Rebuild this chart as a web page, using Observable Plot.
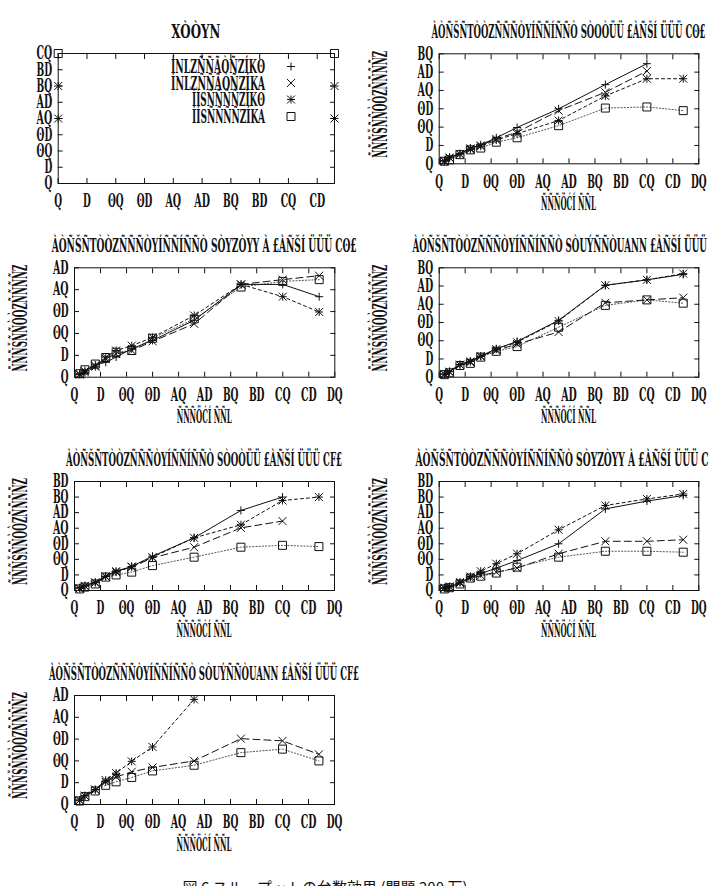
<!DOCTYPE html>
<html><head><meta charset="utf-8">
<script src="https://cdn.jsdelivr.net/npm/d3@7"></script>
<script src="https://cdn.jsdelivr.net/npm/@observablehq/plot@0.6"></script>
<style>
body{margin:0;background:#fff}
#root{position:relative;width:709px;height:886px;overflow:hidden;background:#fff}
#root svg{position:absolute;left:0;top:0}
</style>
</head><body><div id="root"></div>
<script>
// ---------- data ----------
const xs = [1, 2, 4, 6, 8, 11, 15, 23, 32, 40, 47];
const keyX = [0, 48];
const keySquare = [40, 40];
const keyStarA = [30, 30];
const keyStarB = [20, 20];

const p2Plus = [0.9, 1.8, 2.8, 4.3, 5.2, 7.1, 9.9, 15, 21.6, 27.3];
const p2Times = [0.8, 1.7, 2.7, 4.2, 5.0, 6.8, 8.6, 14.5, 19.5, 25.3];
const p2Star = [0.7, 1.6, 2.6, 3.9, 4.8, 6.5, 8.2, 11.8, 18.5, 23.2, 23.2];
const p2Square = [0.7, 1.1, 2.5, 3.8, 4.3, 5.9, 7.1, 10.4, 15.2, 15.5, 14.5];

const p3Plus = [0.8, 1.5, 2.8, 3.4, 4.6, 6.5, 8.4, 13, 21.2, 21.2, 18.4];
const p3Times = [0.7, 1.4, 2.6, 4.2, 5.3, 6.1, 8.2, 12.2, 21.2, 22.3, 23.2];
const p3Star = [0.6, 1.1, 2.4, 4.6, 6.1, 7.2, 9.1, 14.1, 21.2, 18.4, 14.9];
const p3Square = [0.8, 1.7, 3.0, 4.5, 5.7, 6.1, 8.9, 13.3, 20.6, 21.9, 22.3];

const p4Plus = [0.9, 1.6, 3.5, 4.4, 5.8, 7.8, 9.8, 15.6, 25.2, 26.7, 28.2];
const p4Times = [0.9, 1.4, 3.4, 4.1, 5.8, 7.3, 9.1, 12.4, 20.4, 21.2, 21.8];
const p4Star = [0.8, 1.5, 3.4, 4.3, 5.7, 7.7, 9.6, 15.4, 25.2, 26.7, 28.4];
const p4Square = [0.7, 1.2, 3.2, 3.8, 5.5, 7.1, 8.4, 13.7, 19.7, 21.2, 20.3];

const p5Plus = [0.9, 1.6, 2.7, 4.6, 6.2, 7.7, 11, 16.9, 25.7, 30];
const p5Times = [0.7, 1.5, 2.6, 4.5, 6.2, 7.5, 10.5, 13.9, 20.1, 22.3];
const p5Star = [0.7, 1.4, 2.5, 4.5, 5.9, 7.7, 10.7, 16.9, 21.1, 28.9, 30];
const p5Square = [0.5, 1.1, 2.1, 4.3, 5.0, 5.9, 8, 10.7, 13.9, 14.5, 14.1];

const p6Plus = [0.7, 1.1, 2.5, 4.3, 5.4, 7.2, 9.6, 15, 26.2, 28.7, 30.5];
const p6Times = [0.7, 1.1, 2.4, 4.0, 4.8, 5.9, 7.2, 11.8, 15.8, 15.8, 16.3];
const p6Star = [0.9, 1.3, 2.7, 4.5, 6.2, 8.6, 11.8, 19.5, 27.3, 29.4, 31];
const p6Square = [0.5, 0.9, 2.1, 4.0, 4.6, 5.6, 7.5, 10.7, 12.6, 12.6, 12.3];

const p7Plus = [1.0, 2.0, 3.4, 5.2, 6.9];
const p7Times = [1.0, 2.0, 3.4, 5.2, 6.3, 7.5, 8.5, 10, 15.1, 14.6, 11.5];
const p7Star = [1.0, 2.0, 3.4, 5.6, 7.2, 9.9, 13.2, 24.1];
const p7Square = [0.8, 1.8, 3.1, 4.4, 5.2, 6.2, 7.7, 9, 11.9, 12.7, 10];

const xTicks45 = [0, 5, 10, 15, 20, 25, 30, 35, 40, 45];
const xTicks50 = [0, 5, 10, 15, 20, 25, 30, 35, 40, 45, 50];
const yTicks25 = [0, 5, 10, 15, 20, 25];
const yTicks30 = [0, 5, 10, 15, 20, 25, 30];
const yTicks35 = [0, 5, 10, 15, 20, 25, 30, 35];
const yTicks40 = [0, 5, 10, 15, 20, 25, 30, 35, 40];

// text as it appears in the picture
const keyLabels = ["ÍNLZÑÑÃÒÑZÍKʘ", "ÍNLZÑÑÃÒÑZÍKA", "ÍÍSÑÑÑÑZÍKʘ", "ÍÍSÑÑÑÑZÍKA"];
const keyTitle = "XÒÒYN";
const panelTitles = [
  "ÀÒÑŠÑTÒÒZÑÑÑÒYÍÑÑÍÑÑÒ SÒOÒÜÜ £ÀÑŠÍ ÜÜÜ Cʘ£",
  "ÀÒÑŠÑTÒÒZÑÑÑÒYÍÑÑÍÑÑÒ SÒYZÒYY À £ÀÑŠÍ ÜÜÜ Cʘ£",
  "ÀÒÑŠÑTÒÒZÑÑÑÒYÍÑÑÍÑÑÒ SÒUÝÑÑÒUANN £ÀÑŠÍ ÜÜÜ Cʘ",
  "ÀÒÑŠÑTÒÒZÑÑÑÒYÍÑÑÍÑÑÒ SÒOÒÜÜ £ÀÑŠÍ ÜÜÜ CF£",
  "ÀÒÑŠÑTÒÒZÑÑÑÒYÍÑÑÍÑÑÒ SÒYZÒYY À £ÀÑŠÍ ÜÜÜ CF£",
  "ÀÒÑŠÑTÒÒZÑÑÑÒYÍÑÑÍÑÑÒ SÒUÝÑÑÒUANN £ÀÑŠÍ ÜÜÜ CF£"
];
const yLabel = "ÑÑÑŠÑÑÒÒZÑÑÑÑZ";
const xLabel = "ÑÑÑÖĆÍ ÑÑL";
const caption = "図 6 スループットの台数効果 (問題 200 万)";
const digitGlyphs = {"0": "Q", "1": "ʘ", "2": "A", "3": "B", "4": "C", "5": "D"};

// ---------- symbols (gnuplot style point types) ----------
const rad = s => Math.sqrt(s / Math.PI);
const symPlus = {draw(c, s) {const r = rad(s); c.moveTo(-r, 0); c.lineTo(r, 0); c.moveTo(0, -r); c.lineTo(0, r);}};
const symTimes = {draw(c, s) {const r = rad(s); c.moveTo(-r, -r); c.lineTo(r, r); c.moveTo(-r, r); c.lineTo(r, -r);}};
const symStar = {draw(c, s) {const r = rad(s); c.moveTo(-r, 0); c.lineTo(r, 0); c.moveTo(0, -r); c.lineTo(0, r);
  c.moveTo(-r, -r); c.lineTo(r, r); c.moveTo(-r, r); c.lineTo(r, -r);}};
const symSquare = {draw(c, s) {const r = rad(s); c.moveTo(-r, -r); c.lineTo(r, -r); c.lineTo(r, r); c.lineTo(-r, r); c.closePath();}};

const styles = {
  plus: {symbol: symPlus, dash: null, stroke: "#111"},
  times: {symbol: symTimes, dash: "7,4", stroke: "#111"},
  star: {symbol: symStar, dash: "3,3", stroke: "#111"},
  square: {symbol: symSquare, dash: "1.2,2", stroke: "#555"}
};

const W = 709, H = 886;
const garble = d => String(d).split("").map(ch => digitGlyphs[ch] ?? ch).join("");
const FONT = "'DejaVu Serif', 'Liberation Serif', serif";

const panels = [
  {fx0: 57.7, fx1: 334, fy0: 53, fy1: 183, xDomain: [0, 48], xTicks: xTicks45, yDomain: [0, 40], yTicks: yTicks40,
   series: [{k: "square", x: keyX, v: keySquare, line: false}, {k: "star", x: keyX, v: keyStarA, line: false}, {k: "star", x: keyX, v: keyStarB, line: false}],
   title: keyTitle, titleW: 49, labels: false},
  {fx0: 438.7, fx1: 698.3, fy0: 53.3, fy1: 163.3, yDomain: [0, 30], yTicks: yTicks30, ylx: 380,
   series: [{k: "square", v: p2Square}, {k: "star", v: p2Star}, {k: "times", v: p2Times}, {k: "plus", v: p2Plus}], title: panelTitles[0], titleW: 274},
  {fx0: 74, fx1: 334.3, fy0: 267.3, fy1: 376.7, yDomain: [0, 25], yTicks: yTicks25, ylx: 20,
   series: [{k: "square", v: p3Square}, {k: "star", v: p3Star}, {k: "times", v: p3Times}, {k: "plus", v: p3Plus}], title: panelTitles[1], titleW: 305},
  {fx0: 438.7, fx1: 698.3, fy0: 267.3, fy1: 376.7, yDomain: [0, 30], yTicks: yTicks30, ylx: 380,
   series: [{k: "square", v: p4Square}, {k: "times", v: p4Times}, {k: "star", v: p4Star}, {k: "plus", v: p4Plus}], title: panelTitles[2], titleW: 312},
  {fx0: 74, fx1: 334, fy0: 481, fy1: 590, yDomain: [0, 35], yTicks: yTicks35, ylx: 20,
   series: [{k: "square", v: p5Square}, {k: "times", v: p5Times}, {k: "star", v: p5Star}, {k: "plus", v: p5Plus}], title: panelTitles[3], titleW: 276},
  {fx0: 438.7, fx1: 698.3, fy0: 481, fy1: 590, yDomain: [0, 35], yTicks: yTicks35, ylx: 380,
   series: [{k: "square", v: p6Square}, {k: "times", v: p6Times}, {k: "plus", v: p6Plus}, {k: "star", v: p6Star}], title: panelTitles[4], titleW: 306},
  {fx0: 74, fx1: 334, fy0: 695, fy1: 804, yDomain: [0, 25], yTicks: yTicks25, ylx: 20,
   series: [{k: "square", v: p7Square}, {k: "times", v: p7Times}, {k: "plus", v: p7Plus}, {k: "star", v: p7Star}], title: panelTitles[5], titleW: 310}
];

const root = document.getElementById("root");

for (const p of panels) {
  const xTicks = p.xTicks || xTicks50;
  const xDomain = p.xDomain || [0, 50];
  const marks = [];
  for (const s of p.series) {
    const st = styles[s.k];
    const sx = s.x || xs;
    const data = s.v.map((v, i) => ({x: sx[i], y: v}));
    if (s.line !== false) {
      marks.push(Plot.line(data, {x: "x", y: "y", stroke: st.stroke, strokeWidth: 1, strokeDasharray: st.dash}));
    }
    marks.push(Plot.dot(data, {x: "x", y: "y", symbol: st.symbol, r: 4, fill: "none", stroke: "#111", strokeWidth: 1}));
  }
  const tk = {tickSize: -5, tickFormat: () => "", label: null, stroke: "#111"};
  marks.push(
    Plot.axisX(xTicks, {...tk, anchor: "bottom"}),
    Plot.axisX(xTicks, {...tk, anchor: "top"}),
    Plot.axisY(p.yTicks, {...tk, anchor: "left"}),
    Plot.axisY(p.yTicks, {...tk, anchor: "right"}),
    Plot.axisX(xTicks, {anchor: "bottom", tickSize: 0, tickPadding: 11, tickFormat: garble, label: null, fontSize: 18, fill: "#111"}),
    Plot.axisY(p.yTicks, {anchor: "left", tickSize: 0, tickPadding: 6, tickFormat: garble, label: null, fontSize: 18, fill: "#111"}),
    Plot.frame({stroke: "#111", strokeWidth: 1})
  );
  const svg = Plot.plot({
    width: W, height: H,
    marginLeft: p.fx0, marginRight: W - p.fx1, marginTop: p.fy0, marginBottom: H - p.fy1,
    x: {domain: xDomain}, y: {domain: p.yDomain},
    style: {background: "transparent", overflow: "visible", fontFamily: FONT, fontWeight: "bold"},
    marks
  });
  d3.select(svg).selectAll("text").each(function () {
    const t = this.textContent;
    if (t && t.length) {
      d3.select(this).attr("textLength", t.length * 7.8).attr("lengthAdjust", "spacingAndGlyphs");
    }
  });
  root.appendChild(svg);
}

// ---------- overlay texts: titles, axis labels, key, caption ----------
const ov = d3.create("svg").attr("width", W).attr("height", H).attr("viewBox", `0 0 ${W} ${H}`)
  .style("font-family", FONT).style("font-weight", "bold").style("overflow", "visible");

for (const p of panels) {
  const cx = (p.fx0 + p.fx1) / 2;
  const cy = (p.fy0 + p.fy1) / 2;
  ov.append("text").attr("x", cx).attr("y", p.fy0 - 22).attr("text-anchor", "middle")
    .attr("dominant-baseline", "central").attr("font-size", 18).attr("fill", "#111")
    .attr("textLength", p.titleW).attr("lengthAdjust", "spacingAndGlyphs").text(p.title);
  if (p.labels !== false) {
    ov.append("text").attr("x", cx).attr("y", p.fy1 + 40).attr("text-anchor", "middle")
      .attr("dominant-baseline", "central").attr("font-size", 18).attr("fill", "#111")
      .attr("textLength", 55).attr("lengthAdjust", "spacingAndGlyphs").text(xLabel);
    ov.append("text").attr("transform", `translate(${p.ylx},${cy - 4}) rotate(-90)`)
      .attr("text-anchor", "middle").attr("dominant-baseline", "central").attr("font-size", 20).attr("fill", "#111")
      .attr("textLength", 107).attr("lengthAdjust", "spacingAndGlyphs").text(yLabel);
  }
}

// key (legend) inside the first panel
const keySyms = [symPlus, symTimes, symStar, symSquare];
const keyRows = [66.5, 83, 99.5, 116.5];
const keyW = [94, 94, 73, 73];
keyLabels.forEach((lab, i) => {
  ov.append("text").attr("x", 265).attr("y", keyRows[i]).attr("text-anchor", "end")
    .attr("dominant-baseline", "central").attr("font-size", 18).attr("fill", "#111")
    .attr("textLength", keyW[i]).attr("lengthAdjust", "spacingAndGlyphs").text(lab);
  ov.append("path").attr("transform", `translate(291,${keyRows[i]})`)
    .attr("d", d3.symbol(keySyms[i], Math.PI * 16)()).attr("fill", "none").attr("stroke", "#111").attr("stroke-width", 1);
});

ov.append("text").attr("x", 325).attr("y", 893).attr("text-anchor", "middle")
  .attr("font-family", "'Noto Sans CJK JP', sans-serif").attr("font-weight", "normal").attr("font-size", 15).attr("fill", "#111")
  .attr("textLength", 285).attr("lengthAdjust", "spacingAndGlyphs").text(caption);

root.appendChild(ov.node());
</script>
</body></html>
